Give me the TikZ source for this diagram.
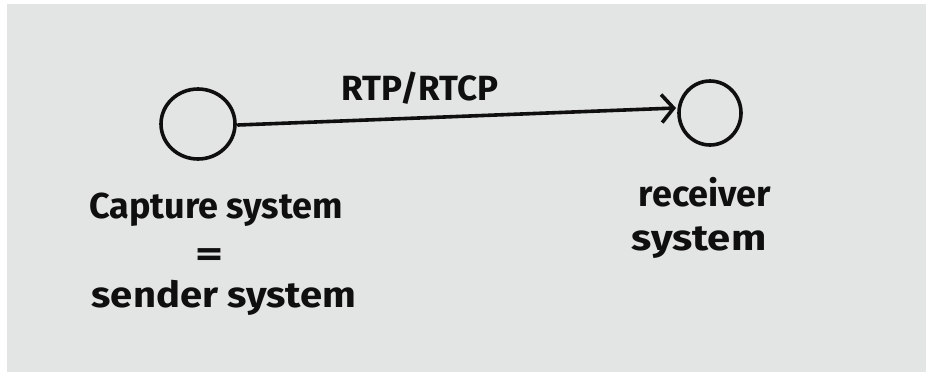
\documentclass[tikz,border=0pt]{standalone}
\usepackage{fontspec}
\setmainfont{Fira Sans}
\usetikzlibrary{arrows.meta}
\definecolor{board}{RGB}{226,229,227}
\definecolor{ink}{RGB}{15,15,15}
\begin{document}
\begin{tikzpicture}[x=1pt,y=-1pt,
  hand/.style={text=ink,font=\fontsize{36}{40}\selectfont\bfseries,inner sep=0pt},
  link/.style={draw=ink,line width=3.6pt,line cap=round,-{Straight Barb[length=12pt,width=28pt,line width=3.6pt]}}]
\useasboundingbox (0,0) rectangle (928,381);
\fill[white] (0,0) rectangle (928,381);
\fill[board] (7,4) rectangle (926,372);
\draw[draw=ink,line width=3.6pt] (198,124) ellipse [x radius=37, y radius=35];
\draw[draw=ink,line width=3.6pt] (710,113) ellipse [x radius=31, y radius=32];
\coordinate (a0) at (238,125);
\coordinate (a1) at (676,108);
\draw[link] (a0) -- (a1);
\node[hand,font=\fontsize{35}{40}\selectfont\bfseries] (lab) at (420,88) {RTP/RTCP};
\node[hand] (cap) at (216,210) {Capture system};
\node[hand,xscale=1.5] (eq) at (210,258) {=};
\node[hand,xscale=1.11] (snd) at (224,298) {sender system};
\node[hand] (rcv) at (705,192) {receiver};
\node[hand,xscale=1.16] (rsy) at (699,243) {system};
\end{tikzpicture}
\end{document}
